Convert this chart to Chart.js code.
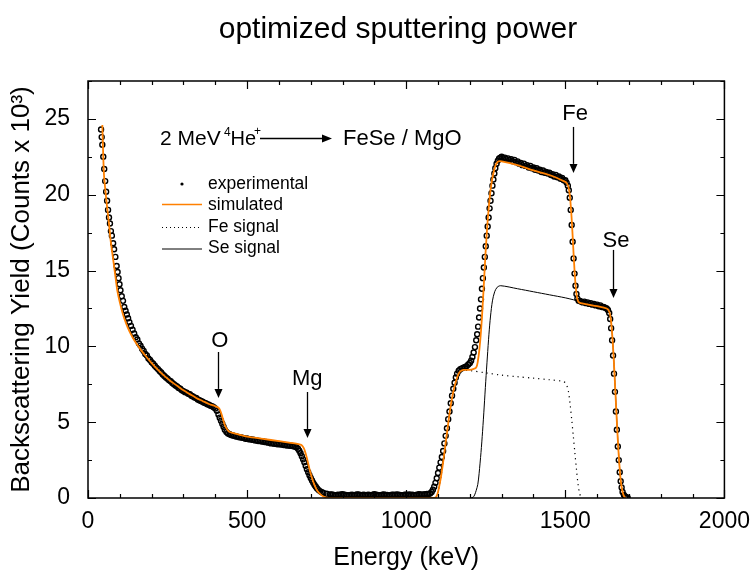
<!DOCTYPE html>
<html><head><meta charset="utf-8">
<script src="https://cdn.jsdelivr.net/npm/chart.js@4.4.1/dist/chart.umd.min.js"></script>
<style>html,body{margin:0;padding:0;background:#fff}canvas{display:block}</style>
</head><body>
<canvas id="c" width="752" height="576"></canvas>
<script>
// ---- data ----
const expE = [41,43,45,48,51,54,57,60,63,66,69,72,75,79,82,86,90,93,96,99,102,106,110,114,118,122,126,130,135,140,145,150,155,160,165,170,175,180,185,190,195,
200,205,210,215,220,225,230,235,240,245,250,255,260,265,270,275,280,285,290,295,300,305,310,315,320,325,330,335,340,345,350,355,360,365,370,375,380,385,390,395,400,
405,410,414,418,422,426,430,435,440,445,
450,455,460,465,470,475,480,485,490,495,500,505,510,515,520,525,530,535,540,545,550,555,560,565,570,575,580,585,590,595,600,605,610,615,620,625,630,635,640,645,650,
655,660,664,668,672,676,680,684,688,692,696,700,704,708,712,716,720,725,730,735,740,750,760,
765,770,775,780,785,790,795,800,805,810,815,820,825,830,835,840,845,850,855,860,865,870,875,880,885,890,895,900,905,910,915,920,925,930,935,940,945,950,955,960,965,970,975,980,985,990,995,1000,1005,1010,1015,1020,1025,1030,1035,1040,1045,1050,1055,1060,1065,1070,
1075,1080,1084,1088,1092,1096,1100,1104,1108,1112,1116,1120,1124,1128,1132,1136,1140,1144,1148,1152,1156,1160,1165,1170,1175,1180,1185,1190,1195,1200,1204,1208,1212,1216,1220,1223,1226,1229,1232,1235,1238,1241,1244,1247,1250,1253,1256,1259,1262,1265,1268,1271,1274,1277,1280,1284,1288,1292,1296,
1300,1305,1310,1315,1320,1325,1330,1335,1340,1345,1350,1355,1360,1365,1370,1375,1380,1385,1390,1395,1400,1405,1410,1415,1420,1425,1430,1435,1440,1445,1450,1455,1460,1465,1470,1475,1480,1485,1490,1495,1500,1504,1508,1511,1514,1517,1520,1523,1526,1529,1532,1535,1538,1542,1546,1550,1555,1560,1565,1570,1575,1580,1585,1590,1595,1600,1605,1610,1615,1620,1625,1630,1634,1638,1641,1644,1647,1650,1653,1656,1659,1662,1665,1668,1671,1674,1677,1680,1684,1688,1692,1696];
const expY = [24.3,23.8,23.3,22.5,21.7,20.9,20.2,19.6,19.0,18.5,18.1,17.6,17.3,16.8,16.4,15.9,15.3,14.9,14.5,14.1,13.7,13.3,13.0,12.6,12.35,12.1,11.85,11.6,11.35,11.1,10.85,10.6,10.45,10.2,10.05,9.85,9.7,9.5,9.4,9.2,9.1,
8.95,8.85,8.72,8.6,8.5,8.38,8.28,8.15,8.05,7.95,7.87,7.76,7.7,7.58,7.5,7.42,7.35,7.26,7.2,7.1,7.05,6.98,6.95,6.87,6.85,6.74,6.7,6.62,6.6,6.5,6.45,6.4,6.35,6.28,6.25,6.18,6.15,6.08,6.05,5.98,5.9,
5.75,5.5,5.3,5.1,4.9,4.7,4.5,4.35,4.25,4.2,
4.15,4.12,4.1,4.06,4.05,4.0,4.0,3.97,3.95,3.9,3.92,3.87,3.88,3.84,3.85,3.8,3.8,3.76,3.77,3.72,3.74,3.69,3.7,3.65,3.66,3.6,3.62,3.57,3.6,3.54,3.56,3.52,3.54,3.49,3.5,3.46,3.48,3.44,3.45,3.41,3.4,
3.35,3.25,3.12,2.95,2.75,2.55,2.35,2.12,1.9,1.7,1.5,1.32,1.15,1.0,0.86,0.74,0.63,0.52,0.44,0.38,0.33,0.28,0.24,
0.23,0.22,0.19,0.18,0.21,0.2,0.23,0.25,0.21,0.2,0.18,0.17,0.2,0.22,0.19,0.2,0.23,0.24,0.2,0.19,0.21,0.2,0.17,0.22,0.2,0.18,0.21,0.25,0.22,0.2,0.18,0.19,0.22,0.23,0.2,0.2,0.17,0.18,0.21,0.22,0.2,0.24,0.21,0.2,0.18,0.19,0.22,0.21,0.2,0.23,0.2,0.22,0.19,0.2,0.22,0.25,0.23,0.22,0.24,0.25,0.26,0.27,
0.3,0.4,0.55,0.75,1.0,1.3,1.65,2.0,2.35,2.7,3.1,3.6,4.1,4.6,5.2,5.7,6.25,6.75,7.2,7.6,7.95,8.2,8.4,8.5,8.55,8.6,8.65,8.7,8.8,8.9,9.05,9.3,9.6,9.95,10.4,10.8,11.3,11.9,12.5,13.1,13.8,14.5,15.2,15.9,16.6,17.3,17.9,18.5,19.1,19.6,20.1,20.6,21.0,21.4,21.75,22.05,22.25,22.4,22.45,
22.5,22.4,22.45,22.35,22.4,22.3,22.35,22.2,22.3,22.15,22.2,22.05,22.1,21.95,22.05,21.9,21.95,21.8,21.9,21.75,21.8,21.65,21.75,21.6,21.65,21.5,21.6,21.45,21.5,21.4,21.45,21.3,21.35,21.2,21.3,21.15,21.2,21.05,21.1,20.95,20.95,20.8,20.6,20.3,19.8,19.0,18.0,16.9,15.8,14.8,14.0,13.45,13.15,13.0,13.0,12.95,12.9,12.95,12.85,12.9,12.8,12.85,12.75,12.8,12.7,12.75,12.65,12.7,12.6,12.6,12.55,12.5,12.4,12.2,11.8,11.2,10.4,9.4,8.2,7.0,5.7,4.5,3.4,2.5,1.7,1.1,0.7,0.4,0.2,0.1,0.05,0.02];

const simE = [45,50,55,60,66,71,78,85,92,100,110,120,130,140,150,165,180,200,220,240,260,280,300,320,340,360,380,400,410,415,420,425,430,435,440,445,455,480,500,550,600,650,670,675,680,685,690,695,700,705,710,715,720,730,740,750,760,1090,1095,1100,1105,1110,1115,1120,1125,1130,1135,1140,1145,1150,1155,1160,1165,1170,1180,1200,1210,1220,1225,1230,1235,1240,1245,1250,1255,1260,1265,1270,1275,1280,1285,1290,1300,1350,1400,1450,1500,1505,1510,1514,1517,1520,1523,1526,1529,1532,1535,1538,1543,1560,1600,1630,1638,1643,1647,1651,1655,1659,1663,1667,1671,1675,1680,1685,1690];
const simY = [24.6,21.4,20.2,19.2,18.1,17.0,15.9,14.8,13.7,12.9,12.1,11.5,11.0,10.6,10.25,9.8,9.4,8.9,8.45,8.05,7.7,7.4,7.1,6.85,6.6,6.4,6.2,6.05,5.95,5.8,5.5,5.15,4.8,4.6,4.45,4.35,4.3,4.15,4.05,3.9,3.75,3.6,3.5,3.4,3.2,2.85,2.45,2.0,1.6,1.25,0.95,0.7,0.5,0.25,0.1,0.03,0,0,0.1,0.4,0.9,1.5,2.2,3.0,3.8,4.6,5.4,6.1,6.7,7.2,7.6,7.95,8.2,8.35,8.45,8.45,8.5,8.6,9.0,9.8,11.0,12.6,14.5,16.4,18.0,19.3,20.3,21.0,21.5,21.9,22.1,22.2,22.2,21.95,21.6,21.3,20.85,20.75,20.5,20.0,19.3,18.4,17.3,16.1,15.0,14.1,13.5,13.1,12.9,12.8,12.65,12.5,12.3,11.8,10.9,9.6,8.0,6.3,4.6,3.1,1.9,1.0,0.4,0.1,0];

const feE = [1090,1100,1110,1120,1130,1140,1150,1160,1170,1180,1200,1250,1300,1350,1400,1450,1490,1500,1505,1510,1515,1520,1525,1530,1535,1540,1545,1550];
const feY = [0,0.4,1.5,3.0,4.6,6.1,7.2,7.95,8.3,8.4,8.4,8.25,8.1,8.0,7.9,7.8,7.7,7.6,7.4,7.0,6.2,5.2,4.1,3.0,1.9,0.9,0.3,0];

const seE = [1200,1210,1215,1220,1225,1229,1235,1240,1245,1250,1255,1260,1265,1271,1278,1286,1297,1350,1400,1450,1500,1550,1600,1630,1638,1643,1647,1651,1655,1659,1663,1667,1671,1675,1680,1685,1690];
const seY = [0,0.05,0.2,0.5,0.9,1.6,3.0,4.4,6.0,7.7,9.3,10.8,12.0,13.0,13.6,13.9,14.0,13.8,13.6,13.4,13.2,12.95,12.75,12.6,12.3,11.8,10.9,9.6,8.0,6.3,4.6,3.1,1.9,1.0,0.4,0.1,0];

const xTickLabels = [0,500,1000,1500,2000];
const yTickLabels = [0,5,10,15,20,25];

// element markers: label, energy of text, energy of arrow, text baseline y, arrow start y, arrow end y
const markNames = ['O','Mg','Fe','Se'];
const markTextE = [414, 689, 1531, 1659];
const markE     = [410, 687, 1525, 1650];
const markTextY = [9.96, 7.45, 24.93, 16.56];
const markFromY = [9.63, 6.99, 24.47, 16.36];
const markToY   = [6.6, 3.96, 21.44, 13.19];

const legendNames = ['experimental','simulated','Fe signal','Se signal'];
const titleText = 'optimized sputtering power';

const FONT = '"Liberation Sans", Arial, Helvetica, sans-serif';
Chart.defaults.font.family = FONT;
Chart.defaults.color = '#000';

function pts(xs, ys){ return xs.map((x,i)=>({x:x, y:ys[i]})); }

function arrowDown(ctx, x, y1, y2){
  ctx.beginPath(); ctx.moveTo(x, y1); ctx.lineTo(x, y2 - 9); ctx.stroke();
  ctx.beginPath(); ctx.moveTo(x - 4, y2 - 9); ctx.lineTo(x + 4, y2 - 9); ctx.lineTo(x, y2); ctx.closePath(); ctx.fill();
}

const framePlugin = {
  id: 'frame',
  afterDatasetsDraw(chart){
    const ctx = chart.ctx, a = chart.chartArea, xs = chart.scales.x, ys = chart.scales.y;
    ctx.save();
    ctx.strokeStyle = '#000'; ctx.fillStyle = '#000'; ctx.lineWidth = 1.5;
    ctx.strokeRect(a.left, a.top, a.right - a.left, a.bottom - a.top);
    ctx.lineWidth = 1.2;
    ctx.beginPath();
    for (let v = xs.min; v <= xs.max + 0.001; v += 100){
      const p = Math.round(xs.getPixelForValue(v)) + 0.5;
      const L = (v % 500 === 0) ? 8 : 4;
      ctx.moveTo(p, a.bottom); ctx.lineTo(p, a.bottom - L);
      ctx.moveTo(p, a.top); ctx.lineTo(p, a.top + L);
    }
    for (let v = ys.min; v <= ys.max + 0.001; v += 2.5){
      const p = Math.round(ys.getPixelForValue(v)) + 0.5;
      const L = (Math.abs(v % 5) < 0.001) ? 8 : 4;
      ctx.moveTo(a.left, p); ctx.lineTo(a.left + L, p);
      ctx.moveTo(a.right, p); ctx.lineTo(a.right - L, p);
    }
    ctx.stroke();

    // title
    ctx.font = '30px ' + FONT; ctx.textAlign = 'center'; ctx.textBaseline = 'alphabetic';
    ctx.fillText(titleText, 398, 38);

    // element markers
    ctx.lineWidth = 1.3;
    ctx.font = '22px ' + FONT;
    for (let i = 0; i < markNames.length; i++){
      const x = Math.round(xs.getPixelForValue(markE[i])) + 0.5;
      ctx.fillText(markNames[i], xs.getPixelForValue(markTextE[i]), ys.getPixelForValue(markTextY[i]));
      arrowDown(ctx, x, ys.getPixelForValue(markFromY[i]), ys.getPixelForValue(markToY[i]));
    }

    // reaction header
    ctx.textAlign = 'left';
    ctx.font = '21px ' + FONT; ctx.fillText('2 MeV', 160, 145);
    ctx.font = '12px ' + FONT; ctx.fillText('4', 224, 136);
    ctx.font = '20px ' + FONT; ctx.fillText('He', 230.5, 145);
    ctx.font = '12px ' + FONT; ctx.fillText('+', 254, 135);
    ctx.lineWidth = 1.3;
    ctx.beginPath(); ctx.moveTo(260, 138.5); ctx.lineTo(323, 138.5); ctx.stroke();
    ctx.beginPath(); ctx.moveTo(322, 134.5); ctx.lineTo(332, 138.5); ctx.lineTo(322, 142.5); ctx.closePath(); ctx.fill();
    ctx.font = '22px ' + FONT; ctx.fillText('FeSe / MgO', 343, 145);

    // legend
    const ly = [184, 205.5, 227, 248.5];
    ctx.font = '17.5px ' + FONT; ctx.textBaseline = 'middle';
    for (let i = 0; i < 4; i++) ctx.fillText(legendNames[i], 208, ly[i]);
    ctx.beginPath(); ctx.arc(182, ly[0], 1.6, 0, Math.PI * 2); ctx.fill();
    ctx.strokeStyle = '#ff8000'; ctx.lineWidth = 1.6;
    ctx.beginPath(); ctx.moveTo(162, ly[1] - 1); ctx.lineTo(202, ly[1] - 1); ctx.stroke();
    ctx.strokeStyle = '#000'; ctx.lineWidth = 1; ctx.setLineDash([1, 3]);
    ctx.beginPath(); ctx.moveTo(162, ly[2] + 0.5); ctx.lineTo(202, ly[2] + 0.5); ctx.stroke();
    ctx.setLineDash([]);
    ctx.beginPath(); ctx.moveTo(162, ly[3] + 0.5); ctx.lineTo(202, ly[3] + 0.5); ctx.stroke();
    ctx.restore();
  }
};

new Chart(document.getElementById('c'), {
  type: 'scatter',
  data: {
    datasets: [
      { label: 'simulated', data: pts(simE, simY), showLine: true, borderColor: '#ff8000', borderWidth: 1.8, pointRadius: 0, tension: 0.3, order: 0 },
      { label: 'Se signal', data: pts(seE, seY), showLine: true, borderColor: '#000', borderWidth: 1, pointRadius: 0, tension: 0.3, order: 1 },
      { label: 'Fe signal', data: pts(feE, feY), showLine: true, borderColor: '#000', borderWidth: 1.2, borderDash: [1.2, 4], pointRadius: 0, tension: 0.3, order: 2 },
      { label: 'experimental', data: pts(expE, expY), showLine: false, pointRadius: 2.5, pointBorderWidth: 1.4, pointBorderColor: '#000', pointBackgroundColor: 'rgba(255,255,255,0)', order: 3 }
    ]
  },
  options: {
    responsive: false, animation: false, devicePixelRatio: 1,
    layout: { padding: { top: 81, right: 26, bottom: 0, left: 0 } },
    plugins: {
      legend: { display: false }, tooltip: { enabled: false }, title: { display: false }
    },
    scales: {
      x: {
        type: 'linear', min: 0, max: 2000,
        grid: { display: false }, border: { display: false },
        ticks: { stepSize: 100, autoSkip: false, maxRotation: 0, padding: 2, color: '#000', font: { size: 23 },
                 callback: v => xTickLabels.includes(v) ? String(v) : null },
        title: { display: true, text: 'Energy (keV)', color: '#000', font: { size: 25 }, padding: { top: 0, bottom: 3 } },
        afterFit: s => { s.height = 78; }
      },
      y: {
        type: 'linear', min: 0, max: 27.5,
        grid: { display: false }, border: { display: false },
        ticks: { stepSize: 2.5, autoSkip: false, padding: 10, color: '#000', font: { size: 23 },
                 callback: v => yTickLabels.includes(v) ? String(v) : null },
        title: { display: true, text: 'Backscattering Yield (Counts x 10\u00B3)', color: '#000', font: { size: 26 }, padding: { top: 6, bottom: 0 } },
        afterFit: s => { s.width = 88; }
      }
    }
  },
  plugins: [framePlugin]
});
</script>
</body></html>
